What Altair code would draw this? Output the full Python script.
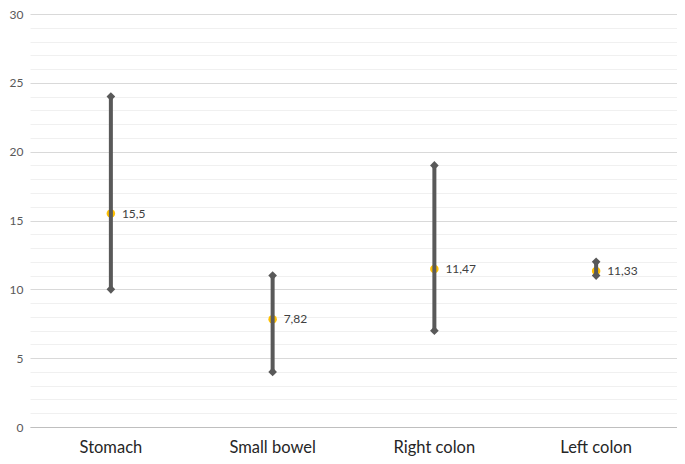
import altair as alt
import pandas as pd

categories = ["Stomach", "Small bowel", "Right colon", "Left colon"]
min_vals = [10, 4, 7, 11]
max_vals = [24, 11, 19, 12]
mean_vals = [15.5, 7.82, 11.47, 11.33]
mean_labels = ["15,5", "7,82", "11,47", "11,33"]
y_ticks = list(range(0, 31))

df = pd.DataFrame({
    "cat": categories,
    "lo": min_vals,
    "hi": max_vals,
    "mean": mean_vals,
    "lbl": mean_labels,
})
ends = pd.DataFrame({
    "cat": categories * 2,
    "v": min_vals + max_vals,
})

FONT = "Lato"
x_axis = alt.Axis(labelAngle=0, labelFontSize=16.5, labelColor="#262626",
                  labelFont=FONT, labelPadding=12, ticks=False,
                  domainColor="#bfbfbf", domainWidth=1.2, grid=False)
x_scale = alt.Scale(paddingInner=0, paddingOuter=0)
y_scale = alt.Scale(domain=[0, 30], nice=False, zero=True)
y_axis = alt.Axis(values=y_ticks, title=None, ticks=False, domain=False,
                  labelOverlap=False,
                  labelExpr="datum.value % 5 === 0 ? datum.label : ''",
                  labelFontSize=12, labelColor="#595959", labelFont=FONT,
                  labelPadding=7,
                  gridColor=alt.condition("datum.value % 5 === 0",
                                          alt.value("#d9d9d9"), alt.value("#f0f0f0")),
                  gridWidth=1)


def X():
    return alt.X("cat:N", sort=categories, title=None, scale=x_scale, axis=x_axis)


def Y(field):
    return alt.Y(field, title=None, scale=y_scale, axis=y_axis)


base = alt.Chart(df)

dots = base.mark_circle(size=72, color="#ffc000", opacity=1).encode(
    x=X(), y=Y("mean:Q"))
rules = base.mark_rule(strokeWidth=4, color="#595959").encode(
    x=X(), y=Y("lo:Q"), y2="hi:Q")
diamonds = alt.Chart(ends).mark_point(shape="diamond", filled=True, size=75,
                                      color="#595959", opacity=1).encode(
    x=X(), y=Y("v:Q"))
labels = base.mark_text(align="left", dx=11, fontSize=12, color="#404040",
                        font=FONT).encode(
    x=X(), y=Y("mean:Q"), text="lbl:N")

chart = alt.layer(dots, rules, diamonds, labels).properties(
    width=647, height=413,
    autosize=alt.AutoSizeParams(type="none"),
    padding={"left": 22, "top": 6, "right": 0, "bottom": 29},
).configure_view(stroke=None)

chart.save("out.html", embed_options={"renderer": "svg", "actions": False})
